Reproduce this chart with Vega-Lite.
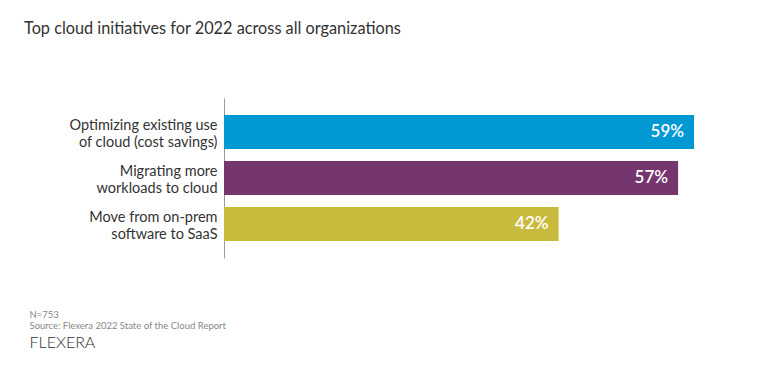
{
  "$schema": "https://vega.github.io/schema/vega-lite/v6.json",
  "autosize": {"type": "none"},
  "width": 478,
  "height": 160,
  "padding": {"left": 224, "top": 98, "right": 66, "bottom": 126},
  "background": "white",
  "config": {"view": {"stroke": null}, "font": "Lato"},
  "title": {
    "text": "Top cloud initiatives for 2022 across all organizations",
    "anchor": "start",
    "frame": "group",
    "dx": -200,
    "offset": 61,
    "fontSize": 16.3,
    "fontWeight": "normal",
    "color": "#333333",
    "font": "Lato"
  },
  "data": {
    "values": [
      {"initiative": "Optimizing existing use|of cloud (cost savings)", "share": 0.59, "rank": 1},
      {"initiative": "Migrating more|workloads to cloud", "share": 0.57, "rank": 2},
      {"initiative": "Move from on-prem|software to SaaS", "share": 0.42, "rank": 3}
    ]
  },
  "encoding": {
    "y": {
      "field": "initiative",
      "type": "nominal",
      "sort": {"field": "rank", "order": "ascending"},
      "scale": {"paddingInner": 0.26, "paddingOuter": 0.37},
      "axis": {
        "title": "FLEXERA",
        "titleAngle": 0,
        "titleX": -195,
        "titleY": 236,
        "titleAlign": "left",
        "titleBaseline": "top",
        "titleFont": "Lato",
        "titleFontSize": 16,
        "titleFontWeight": 300,
        "titleColor": "#333333",
        "labelExpr": "split(datum.label, '|')",
        "labelFontSize": 14.5,
        "labelLineHeight": 17,
        "labelOffset": -6,
        "labelColor": "#333333",
        "labelPadding": 7,
        "labelLimit": 300,
        "ticks": false,
        "grid": false,
        "domain": true,
        "domainColor": "#9a9a9a",
        "domainWidth": 1
      }
    },
    "x": {
      "field": "share",
      "type": "quantitative",
      "scale": {"domain": [0, 0.6]},
      "axis": {
        "title": ["N=753", "Source: Flexera 2022 State of the Cloud Report"],
        "titleX": -195,
        "titleY": 51,
        "titleAlign": "left",
        "titleAnchor": "start",
        "titleBaseline": "top",
        "titleFontSize": 9.5,
        "titleFontWeight": "normal",
        "titleColor": "#888888",
        "titleLineHeight": 11.5,
        "labels": false,
        "ticks": false,
        "grid": false,
        "domain": false
      }
    }
  },
  "layer": [
    {
      "mark": {"type": "bar"},
      "encoding": {
        "color": {
          "field": "initiative",
          "type": "nominal",
          "sort": {"field": "rank", "order": "ascending"},
          "scale": {"range": ["#0099D4", "#75366F", "#C8BA3C"]},
          "legend": null
        }
      }
    },
    {
      "mark": {"type": "text", "align": "right", "dx": -10, "color": "white", "fontSize": 17, "fontWeight": 600, "font": "Lato"},
      "encoding": {
        "text": {"field": "share", "type": "quantitative", "format": ".0%"}
      }
    }
  ]
}
